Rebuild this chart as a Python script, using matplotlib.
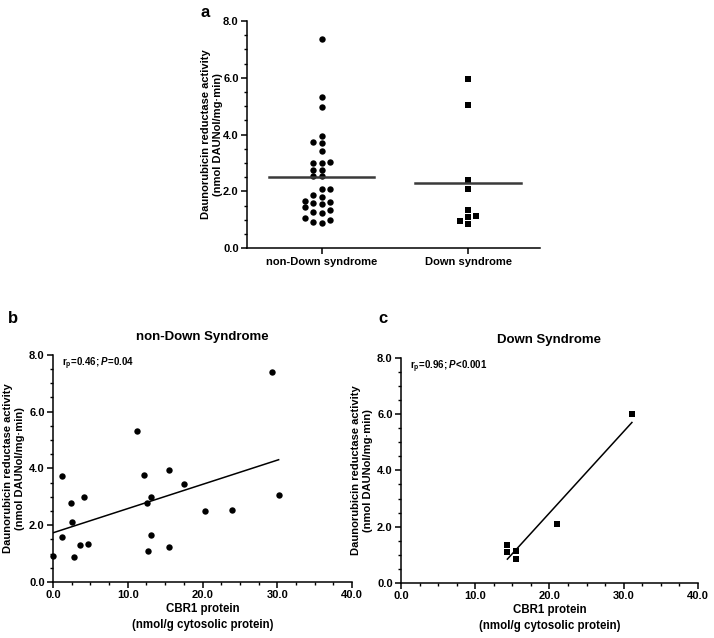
import numpy as np
import matplotlib.pyplot as plt

plt.rcParams['font.family'] = ['Liberation Sans', 'DejaVu Sans']
plt.rcParams['font.weight'] = 'bold'
plt.rcParams['axes.labelweight'] = 'bold'
plt.rcParams['axes.titleweight'] = 'bold'
plt.rcParams['mathtext.fontset'] = 'custom'
plt.rcParams['mathtext.rm'] = 'Liberation Sans:bold'
plt.rcParams['mathtext.it'] = 'Liberation Sans:bold:italic'
plt.rcParams['mathtext.bf'] = 'Liberation Sans:bold'

# panel a: activity by group
groups = ['non-Down syndrome', 'Down syndrome']
act_nds = [7.37, 5.31, 4.96, 3.94, 3.75, 3.70, 3.44, 2.99, 2.99, 3.03,
           2.76, 2.76, 2.53, 2.53, 2.08, 2.08, 1.89, 1.80, 1.65, 1.59,
           1.61, 1.54, 1.44, 1.29, 1.24, 1.33, 1.08, 1.01, 0.89, 0.91]
act_ds = [5.95, 5.04, 2.39, 2.08, 1.33, 0.84, 1.09, 0.94, 1.12]

# panel b: non-Down syndrome, CBR1 protein vs activity
cbr_nds = [0.0, 1.16, 1.16, 2.37, 2.50, 2.77, 4.11, 3.58, 4.65, 11.17, 12.16,
           12.51, 13.05, 13.05, 12.74, 15.46, 15.46, 17.56, 20.34, 23.87, 29.27, 30.17]
red_nds = [0.90, 3.72, 1.58, 2.79, 2.10, 0.89, 3.00, 1.29, 1.35, 5.33, 3.77,
           2.77, 3.00, 1.65, 1.09, 3.95, 1.24, 3.46, 2.51, 2.53, 7.39, 3.05]
stat_nds = r'r$_\mathregular{p}$=0.46; $P$=0.04'

# panel c: Down syndrome
cbr_ds = [14.33, 14.33, 15.45, 15.54, 21.0, 31.1]
red_ds = [1.36, 1.10, 1.14, 0.85, 2.10, 6.00]
stat_ds = r'r$_\mathregular{p}$=0.96; $P$<0.001'

ylab = 'Daunorubicin reductase activity\n(nmol DAUNol/mg·min)'
xlab = 'CBR1 protein\n(nmol/g cytosolic protein)'


def swarm(vals, step=0.057, gap=0.2):
    # simple greedy beeswarm: slots 0,-1,1,-2,2...
    order = np.argsort(vals)
    slots = {}
    off = np.zeros(len(vals))
    for i in order:
        for s in [0, -1, 1, -2, 2, -3, 3]:
            if all(abs(vals[i] - v) >= gap for v in slots.get(s, [])):
                slots.setdefault(s, []).append(vals[i])
                off[i] = s * step
                break
    return off


def style(ax, ylx):
    ax.spines['top'].set_visible(False)
    ax.spines['right'].set_visible(False)
    ax.spines['left'].set_linewidth(1.1)
    ax.spines['bottom'].set_linewidth(1.1)
    ax.tick_params(which='major', length=4, width=1.1, labelsize=8, pad=2)
    ax.tick_params(which='minor', length=2.5, width=1)
    ax.set_ylim(0, 8)
    ax.set_yticks([0, 2, 4, 6, 8])
    ax.set_yticks(np.arange(0, 8.01, 0.5), minor=True)
    ax.set_yticklabels(['%.1f' % v for v in [0, 2, 4, 6, 8]])
    ax.set_ylabel(ylab, fontsize=8, linespacing=1.3)
    ax.yaxis.set_label_coords(ylx, 0.5)


fig = plt.figure(figsize=(7.14, 6.38), dpi=100)

# ---- a
ax = fig.add_axes([0.346, 0.611, 0.410, 0.356])
style(ax, -0.082)
for k, (vals, mk, ms) in enumerate([(act_nds, 'o', 4.6), (act_ds, 's', 4.3)]):
    vals = np.array(vals)
    ax.plot(k + swarm(vals), vals, mk, color='black', ms=ms, mew=0)
    ax.plot([k - 0.36, k + 0.36], [vals.mean()] * 2, color='#3a3a3a', lw=1.8)
ax.set_xlim(-0.51, 1.49)
ax.set_xticks([0, 1])
ax.set_xticklabels(groups, fontsize=8)
fig.text(0.281, 0.981, 'a', fontsize=12, weight='bold', va='center')

# ---- b, c
panels = [(cbr_nds, red_nds, 'o', 4.6, stat_nds, 'non-Down Syndrome', [0.0742, 0.0878, 0.419, 0.356], -0.093),
          (cbr_ds, red_ds, 's', 4.6, stat_ds, 'Down Syndrome', [0.5616, 0.0862, 0.416, 0.353], -0.094)]
for j, (x, y, mk, ms, st, title, pos, ylx) in enumerate(panels):
    ax = fig.add_axes(pos)
    style(ax, ylx)
    x = np.array(x)
    y = np.array(y)
    ax.plot(x, y, mk, color='black', ms=ms, mew=0, clip_on=False)
    m, b = np.polyfit(x, y, 1)
    xx = np.array([x.min(), x.max()])
    ax.plot(xx, m * xx + b, color='black', lw=1.1)
    ax.set_xlim(0, 40)
    ax.set_xticks([0, 10, 20, 30, 40])
    ax.set_xticks(np.arange(0, 40.01, 2.5), minor=True)
    ax.set_xticklabels(['%.1f' % v for v in [0, 10, 20, 30, 40]])
    ax.set_xlabel(xlab, fontsize=8.3, linespacing=1.5)
    ax.xaxis.set_label_coords(0.5, -0.155)
    ax.xaxis.label.set_va('center')
    ax.set_title(title, fontsize=9.5, pad=11)
    ax.text(0.03, 0.96, st, transform=ax.transAxes, fontsize=7, va='center')
fig.text(0.011, 0.501, 'b', fontsize=12, weight='bold', va='center')
fig.text(0.530, 0.501, 'c', fontsize=12, weight='bold', va='center')

fig.savefig('out.png', dpi=100)
